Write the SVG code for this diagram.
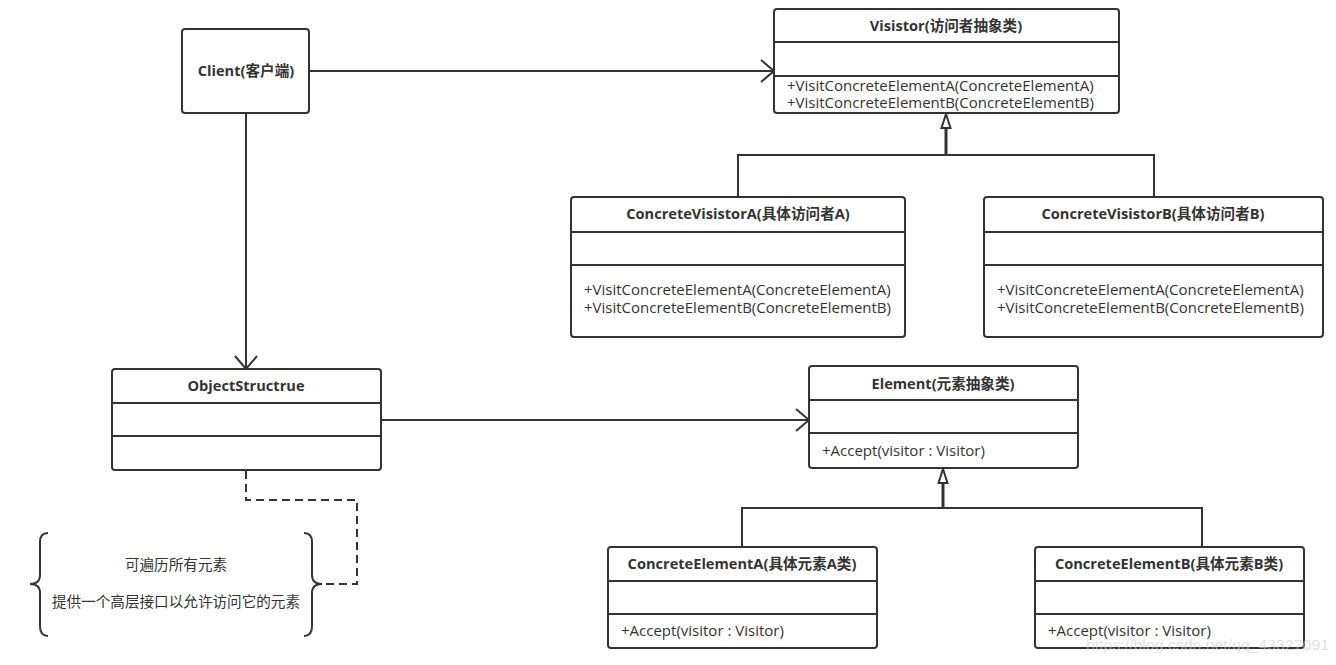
<svg xmlns="http://www.w3.org/2000/svg" width="1336" height="665" viewBox="0 0 1336 665">
<style>
.box{fill:#fff;stroke:#333;stroke-width:2}
.sep{stroke:#333;stroke-width:2}
.t{font-family:"Open Sans","Noto Sans CJK SC",sans-serif;font-size:14.6px;font-weight:bold;fill:#333;text-anchor:middle}
.m{font-family:"Open Sans","Noto Sans CJK SC",sans-serif;font-size:15px;fill:#333}
.c{font-family:"Noto Sans CJK SC",sans-serif;font-size:14.6px;fill:#333;text-anchor:middle}
.ln{fill:none;stroke:#333;stroke-width:2}
.thick{fill:none;stroke:#333;stroke-width:3}
.dash{fill:none;stroke:#333;stroke-width:2;stroke-dasharray:8 5}
</style>
<defs>
<marker id="open" markerWidth="16" markerHeight="24" refX="14" refY="12" orient="auto" markerUnits="userSpaceOnUse">
<path d="M1,1 L14,12 L1,23" fill="none" stroke="#333" stroke-width="2"/>
</marker>
</defs>
<rect width="1336" height="665" fill="#fff"/>
<g id="connectors">
<line class="ln" x1="309" y1="71" x2="774" y2="71" marker-end="url(#open)"/>
<line class="ln" x1="246" y1="113" x2="246" y2="369" marker-end="url(#open)"/>
<line class="ln" x1="381" y1="420" x2="809" y2="420" marker-end="url(#open)"/>
<path class="ln" d="M738,197 V155 H1154 V197"/>
<line class="thick" x1="946" y1="155" x2="946" y2="128"/>
<path d="M946,114 L950.5,128 L941.5,128 Z" fill="#fff" stroke="#333" stroke-width="2"/>
<path class="ln" d="M742,547 V508 H1202 V547"/>
<line class="thick" x1="943" y1="508" x2="943" y2="483"/>
<path d="M943,469 L947.5,483 L938.5,483 Z" fill="#fff" stroke="#333" stroke-width="2"/>
<path class="dash" d="M246,471 V500 H357 V584 H316"/>
</g>
<g id="client">
<rect class="box" x="182" y="29" width="127" height="84" rx="3"/>
<text class="t" x="246" y="76">Client(客户端)</text>
</g>
<g id="visitor">
<rect class="box" x="774" y="9" width="345" height="104" rx="3"/>
<line class="sep" x1="774" y1="42" x2="1119" y2="42"/>
<line class="sep" x1="774" y1="76" x2="1119" y2="76"/>
<text class="t" x="946" y="31">Visistor(访问者抽象类)</text>
<text class="m" x="787" y="91">+VisitConcreteElementA(ConcreteElementA)</text>
<text class="m" x="787" y="108">+VisitConcreteElementB(ConcreteElementB)</text>
</g>
<g id="concreteVisitorA">
<rect class="box" x="571" y="197" width="334" height="140" rx="3"/>
<line class="sep" x1="571" y1="232" x2="905" y2="232"/>
<line class="sep" x1="571" y1="265" x2="905" y2="265"/>
<text class="t" x="738" y="219">ConcreteVisistorA(具体访问者A)</text>
<text class="m" x="584" y="295">+VisitConcreteElementA(ConcreteElementA)</text>
<text class="m" x="584" y="313">+VisitConcreteElementB(ConcreteElementB)</text>
</g>
<g id="concreteVisitorB">
<rect class="box" x="984" y="197" width="339" height="140" rx="3"/>
<line class="sep" x1="984" y1="232" x2="1323" y2="232"/>
<line class="sep" x1="984" y1="265" x2="1323" y2="265"/>
<text class="t" x="1153" y="219">ConcreteVisistorB(具体访问者B)</text>
<text class="m" x="997" y="295">+VisitConcreteElementA(ConcreteElementA)</text>
<text class="m" x="997" y="313">+VisitConcreteElementB(ConcreteElementB)</text>
</g>
<g id="objectStructrue">
<rect class="box" x="112" y="369" width="269" height="101" rx="3"/>
<line class="sep" x1="112" y1="403" x2="381" y2="403"/>
<line class="sep" x1="112" y1="436" x2="381" y2="436"/>
<text class="t" x="246" y="391">ObjectStructrue</text>
</g>
<g id="element">
<rect class="box" x="809" y="366" width="269" height="102" rx="3"/>
<line class="sep" x1="809" y1="400" x2="1078" y2="400"/>
<line class="sep" x1="809" y1="433" x2="1078" y2="433"/>
<text class="t" x="943" y="389">Element(元素抽象类)</text>
<text class="m" x="822" y="456">+Accept(visitor : Visitor)</text>
</g>
<g id="concreteElementA">
<rect class="box" x="608" y="547" width="269" height="101" rx="3"/>
<line class="sep" x1="608" y1="581" x2="877" y2="581"/>
<line class="sep" x1="608" y1="614" x2="877" y2="614"/>
<text class="t" x="742" y="569">ConcreteElementA(具体元素A类)</text>
<text class="m" x="621" y="636">+Accept(visitor : Visitor)</text>
</g>
<g id="concreteElementB">
<rect class="box" x="1035" y="547" width="269" height="101" rx="3"/>
<line class="sep" x1="1035" y1="581" x2="1304" y2="581"/>
<line class="sep" x1="1035" y1="614" x2="1304" y2="614"/>
<text class="t" x="1169" y="569">ConcreteElementB(具体元素B类)</text>
<text class="m" x="1048" y="636">+Accept(visitor : Visitor)</text>
</g>
<g id="note">
<path class="ln" d="M48,533 Q40,533 40,542 V575 Q40,584 30,584 Q40,584 40,593 V626 Q40,636 48,636"/>
<path class="ln" d="M304,533 Q312,533 312,542 V575 Q312,584 322,584 Q312,584 312,593 V626 Q312,636 304,636"/>
<text class="c" x="176" y="570">可遍历所有元素</text>
<text class="c" x="176" y="607">提供一个高层接口以允许访问它的元素</text>
</g>
<text x="1086" y="650" font-family="Liberation Sans, sans-serif" font-size="15" textLength="243" lengthAdjust="spacingAndGlyphs" fill="#ccc" fill-opacity="0.6">https://blog.csdn.net/qq_43327091</text>
</svg>
